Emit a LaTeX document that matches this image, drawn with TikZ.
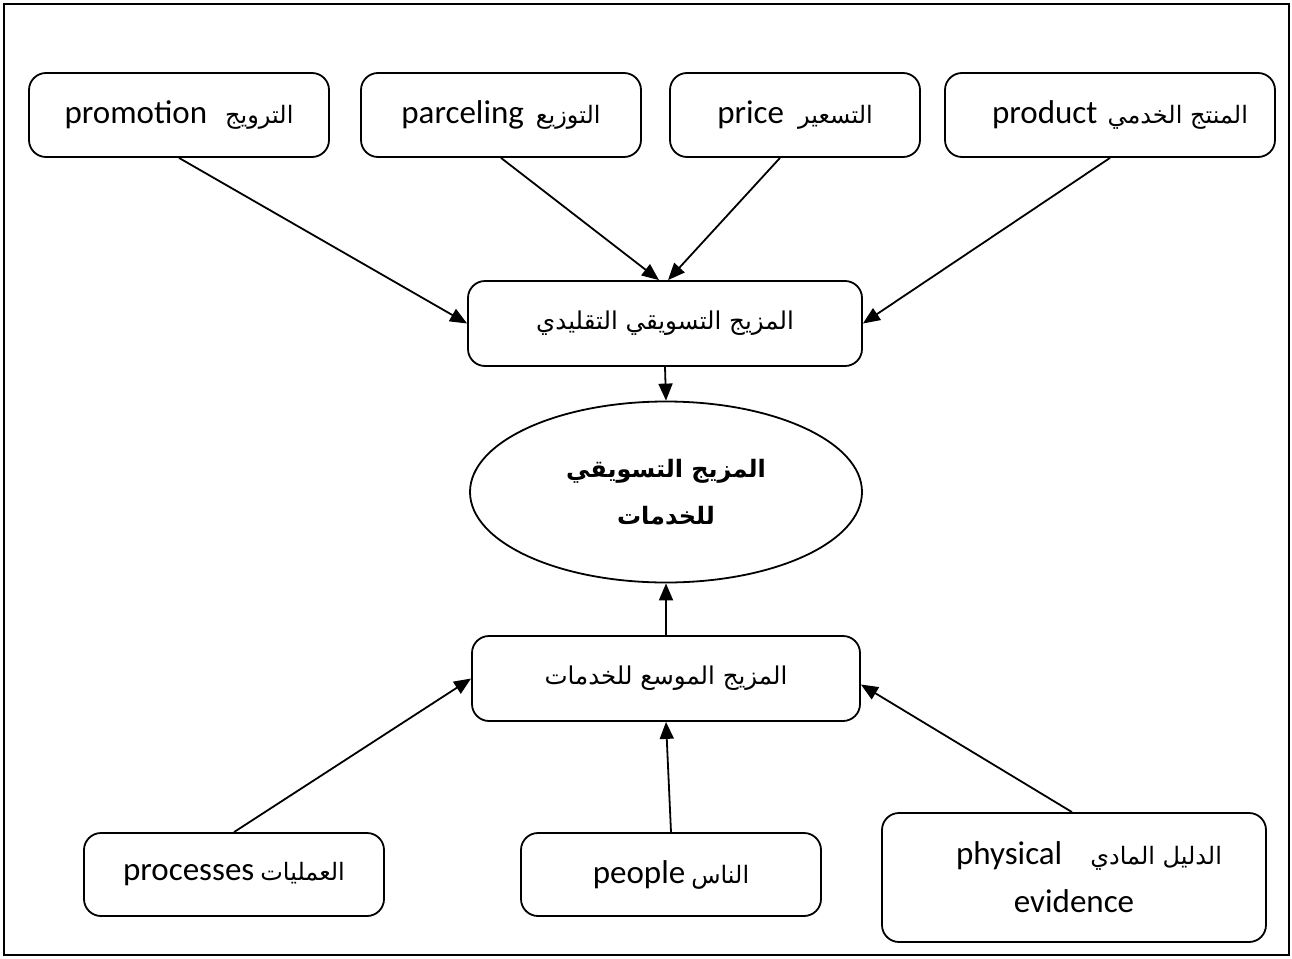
\documentclass[tikz,border=0pt]{standalone}
\usepackage{fontspec}
\setmainfont{Carlito}
\newfontfamily\arfont[Script=Arabic]{DejaVu Sans}
\TeXXeTstate=1
\usetikzlibrary{arrows.meta,calc,shapes.geometric}
\newcommand{\artext}[1]{{\arfont\fontsize{24}{28}\selectfont\beginR #1\endR}}
\newcommand{\artextmid}[1]{{\arfont\fontsize{24.5}{30}\selectfont\beginR #1\endR}}
\newcommand{\artextbold}[1]{{\arfont\bfseries\fontsize{24}{30}\selectfont\beginR #1\endR}}
\begin{document}
\begin{tikzpicture}[x=1pt,y=-1pt,
  box/.style={draw, line width=1.8pt, rounded corners=17pt, inner sep=0pt,
    font=\fontsize{33}{42}\selectfont, align=center},
  arr/.style={line width=1.8pt, -{Triangle[length=17pt,width=14pt]}}]
\path[use as bounding box] (0,0) rectangle (1292,958);
\draw[line width=1.8pt] (4,4) rectangle (1289,955);

\node[box, minimum width=300pt, minimum height=84pt] (promo) at (179,115)
  {promotion\hspace{18pt}\artext{الترويج}};
\node[box, minimum width=280pt, minimum height=84pt] (parcel) at (501,115)
  {parceling\hspace{12pt}\artext{التوزيع}};
\node[box, minimum width=250pt, minimum height=84pt] (price) at (795,115)
  {price\hspace{14pt}\artext{التسعير}};
\node[box, minimum width=330pt, minimum height=84pt] (product) at (1110,115)
  {\hspace{20pt}product\hspace{10pt}\artext{المنتج الخدمي}};

\node[box, minimum width=394pt, minimum height=85pt] (trad) at (665,323.5)
  {\artextmid{المزيج التسويقي التقليدي}};

\node[draw, ellipse, line width=1.8pt, minimum width=392pt, minimum height=181pt, inner sep=0pt, align=center] (mix) at (666,492)
  {\artextbold{المزيج التسويقي}\\[22pt]\artextbold{للخدمات}};

\node[box, minimum width=388pt, minimum height=85pt] (ext) at (666,678.5)
  {\artextmid{المزيج الموسع للخدمات}};

\node[box, minimum width=300pt, minimum height=83pt] (proc) at (234,874.5)
  {processes\hspace{6pt}\artext{العمليات}};
\node[box, minimum width=300pt, minimum height=83pt] (people) at (671,874.5)
  {people\hspace{6pt}\artext{الناس}};
\node[box, minimum width=384pt, minimum height=129pt] (phys) at (1074,877.5)
  {\hspace{30pt}physical\hspace{28pt}\artext{الدليل المادي}\\[6pt]evidence};

\draw[arr] (promo.south) -- (trad.west);
\draw[arr] (parcel.south) -- ($(trad.north)+(-6,0)$);
\draw[arr] ($(price.south)+(-15,0)$) -- ($(trad.north)+(3,0)$);
\draw[arr] (product.south) -- (trad.east);
\draw[arr] (trad.south) -- (mix.north);
\draw[arr] (ext.north) -- (mix.south);
\draw[arr] (proc.north) -- (ext.west);
\draw[arr] (people.north) -- (ext.south);
\draw[arr] ($(phys.north)+(-2,0)$) -- ($(ext.east)+(0,6)$);
\end{tikzpicture}
\end{document}
